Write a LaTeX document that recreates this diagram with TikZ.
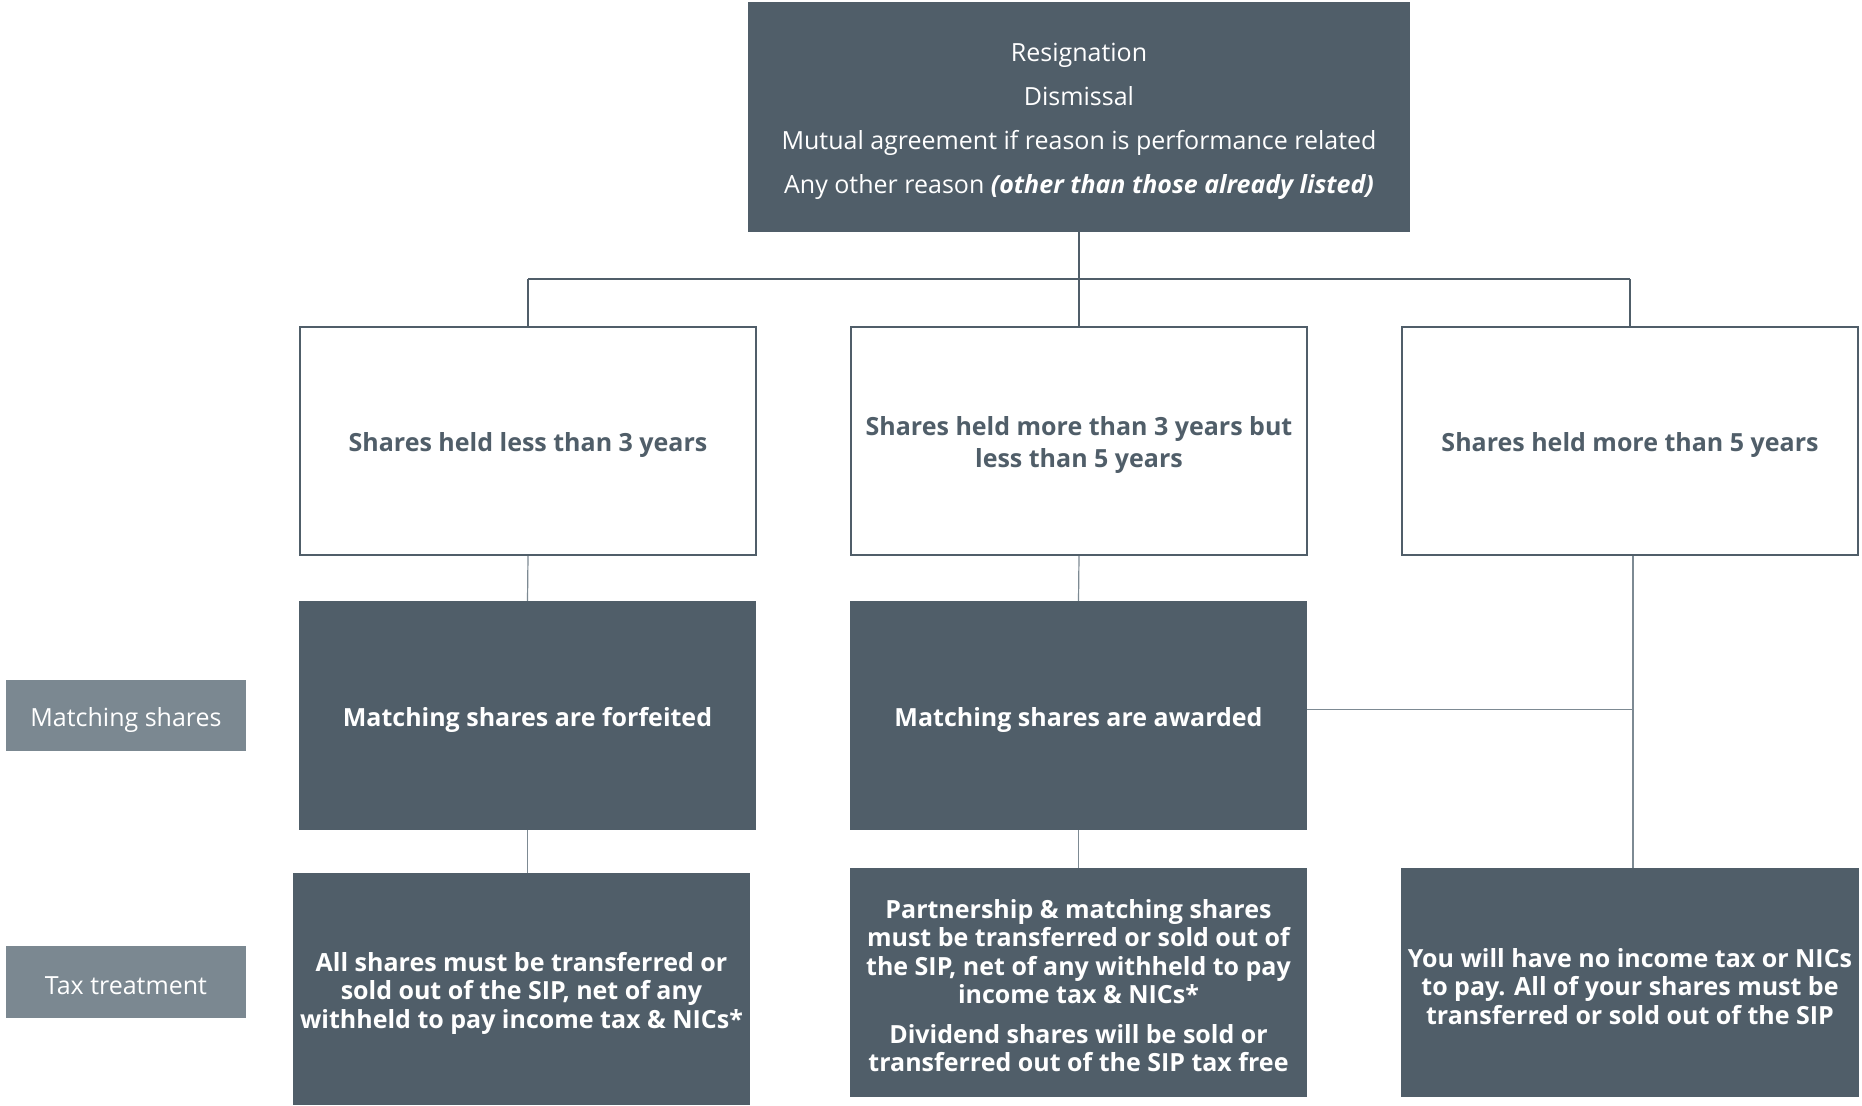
\documentclass[tikz,border=0pt]{standalone}
\usepackage{fontspec}
\setmainfont{Open Sans}
\definecolor{dk}{RGB}{80,94,105}
\definecolor{lb}{RGB}{123,136,145}
\definecolor{ln}{RGB}{125,138,147}
\tikzset{
  topbox/.style={fill=dk, draw=none, inner sep=0pt},
  whitebox/.style={fill=white, draw=dk, line width=2pt, inner sep=0pt},
  darkbox/.style={fill=dk, draw=none, inner sep=0pt},
  labelbox/.style={fill=lb, draw=none, inner sep=0pt},
  toptext/.style={text=white, inner sep=0pt, align=center, font=\fontsize{25}{44}\selectfont},
  whitetext/.style={text=dk, inner sep=0pt, align=center, font=\bfseries\fontsize{25}{32}\selectfont},
  darktext/.style={text=white, inner sep=0pt, align=center, font=\bfseries\fontsize{25}{28.5}\selectfont},
  labeltext/.style={text=white, inner sep=0pt, align=center, font=\fontsize{25}{30}\selectfont},
  busline/.style={draw=dk, line width=2.2pt},
  thinline/.style={draw=ln, line width=1.2pt}
}
\begin{document}
\begin{tikzpicture}[x=1pt,y=-1pt]
\useasboundingbox[fill=white] (0,0) rectangle (1862,1105);
% top
\node[topbox, minimum width=662pt, minimum height=230pt] (top) at (1079,117) {};
\node[toptext] (toptx) at ([yshift=-4pt]top.center)
  {Resignation\\ Dismissal\\ Mutual agreement if reason is performance related\\
   Any other reason \textbf{\textit{(other than those already listed)}}};
% row 2
\node[whitebox, minimum width=456pt, minimum height=228pt] (r1) at (528,441) {};
\node[whitebox, minimum width=456pt, minimum height=228pt] (r2) at (1079,441) {};
\node[whitebox, minimum width=456pt, minimum height=228pt] (r3) at (1630,441) {};
\node[whitetext] (r1tx) at ([yshift=-4pt]r1.center) {Shares held less than 3 years};
\node[whitetext] (r2tx) at ([yshift=-4pt]r2.center) {Shares held more than 3 years but\\ less than 5 years};
\node[whitetext] (r3tx) at ([yshift=-4pt]r3.center) {Shares held more than 5 years};
% row 3
\node[darkbox, minimum width=457pt, minimum height=229pt] (m1) at (527.5,715.5) {};
\node[darkbox, minimum width=457pt, minimum height=229pt] (m2) at (1078.5,715.5) {};
\node[darktext] (m1tx) at ([yshift=-4pt]m1.center) {Matching shares are forfeited};
\node[darktext] (m2tx) at ([yshift=-4pt]m2.center) {Matching shares are awarded};
% labels
\node[labelbox, minimum width=240pt, minimum height=71pt] (lm) at (126,715.5) {};
\node[labelbox, minimum width=240pt, minimum height=72pt] (lt) at (126,982) {};
\node[labeltext] (lmtx) at ([yshift=-4pt]lm.center) {Matching shares};
\node[labeltext] (lttx) at ([yshift=-4pt]lt.center) {Tax treatment};
% row 4
\node[darkbox, minimum width=457pt, minimum height=232pt] (t1) at (521.5,989) {};
\node[darkbox, minimum width=457pt, minimum height=229pt] (t2) at (1078.5,982.5) {};
\node[darkbox, minimum width=458pt, minimum height=229pt] (t3) at (1630,982.5) {};
\node[darktext] (t1tx) at ([yshift=-4pt]t1.center)
  {All shares must be transferred or\\ sold out of the SIP, net of any\\ withheld to pay income tax \& NICs*};
\node[darktext] (t2tx) at ([yshift=-3pt]t2.center)
  {Partnership \& matching shares\\ must be transferred or sold out of\\ the SIP, net of any withheld to pay\\ income tax \& NICs*\\[11pt]
   Dividend shares will be sold or\\ transferred out of the SIP tax free};
\node[darktext] (t3tx) at ([yshift=-4pt]t3.center)
  {You will have no income tax or NICs\\ to pay. All of your shares must be\\ transferred or sold out of the SIP};
% bus connectors
\coordinate (bus) at (0,279);
\draw[busline] (top.south) -- (top.south |- bus);
\draw[busline] (r1.north |- bus) -- (r3.north |- bus);
\draw[busline] (r1.north |- bus) -- (r1.north);
\draw[busline] (r2.north |- bus) -- (r2.north);
\draw[busline] (r3.north |- bus) -- (r3.north);
% lower connectors
\draw[thinline] (r1.south) -- (m1.north);
\draw[thinline] (r2.south) -- (m2.north);
\draw[thinline] (m1.south) -- (m1.south |- t1.north);
\draw[thinline] (m2.south) -- (m2.south |- t2.north);
\draw[thinline] ([xshift=3pt]r3.south) -- ([xshift=3pt]t3.north);
\draw[thinline] ([yshift=6pt]m2.east) -- ([yshift=6pt,xshift=3pt]m2.east -| t3.north);
\end{tikzpicture}
\end{document}
